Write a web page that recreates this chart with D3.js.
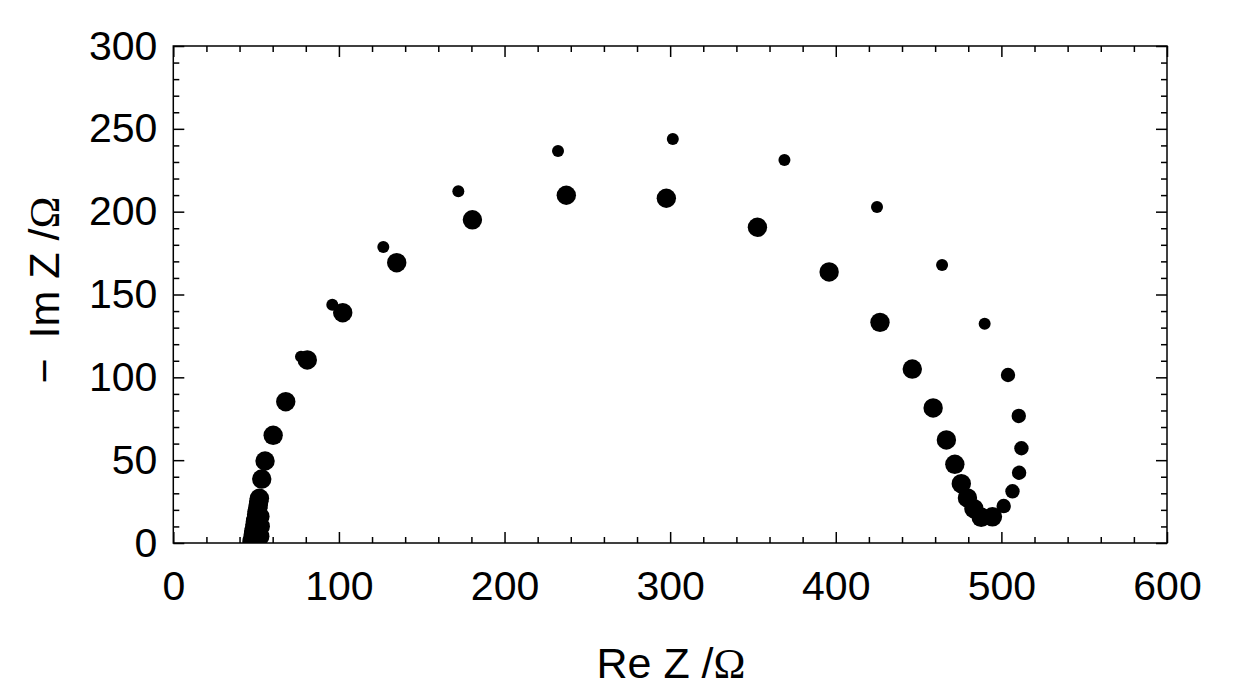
<!DOCTYPE html>
<html>
<head>
<meta charset="utf-8">
<script src="https://cdn.jsdelivr.net/npm/d3@7"></script>
<style>
  html, body { margin: 0; padding: 0; background: #fff; }
  svg { display: block; }
  text { font-family: "Liberation Sans", Arial, sans-serif; fill: #000; }
</style>
</head>
<body>
<svg id="chart" width="1247" height="695"></svg>
<script>
// ---- data ----
const xTicksMajor = [0, 100, 200, 300, 400, 500, 600];
const yTicksMajor = [0, 50, 100, 150, 200, 250, 300];
const xLabel = "Re Z";
const yLabel = "\u2212 Im Z";
const unitLabel = "\u03A9";

// Large markers (Re Z, -Im Z)
const largeRe = [47.5, 48, 48.3, 48.6, 49, 49.3, 49.6, 50, 50.3, 50.6, 51, 51.3, 51.6, 52, 52.2, 52.5, 52.3, 53.4, 55.4, 60.3, 67.9, 80.9, 102.3, 134.9, 180.6, 237.3, 297.7, 352.7, 396.0, 426.7, 446.2, 458.8, 466.8, 471.9, 475.8, 479.5, 483.4, 487.8, 494.6];
const largeIm = [1, 3, 5, 7, 9, 11, 13, 15, 17, 19, 21, 23, 25, 27, 4, 10, 16, 38.6, 49.5, 65.0, 85.3, 110.5, 139.0, 169.2, 195.1, 209.9, 208.1, 190.6, 163.6, 133.2, 105.0, 81.5, 62.2, 47.5, 35.8, 27.2, 20.7, 15.5, 15.8];

// Small markers
const smallRe = [77.1, 96.0, 126.8, 172.1, 232.3, 301.6, 369.0, 424.9, 464.2, 489.9];
const smallIm = [112.5, 143.8, 178.7, 212.3, 236.6, 243.9, 231.2, 202.8, 167.8, 132.4];

// Medium markers
const medRe = [504.0, 510.5, 512.1, 510.7, 506.7, 501.4];
const medIm = [101.4, 76.7, 57.2, 42.4, 31.2, 22.3];

// ---- layout ----
const svg = d3.select("#chart");
const L = 173.3, R = 1167, T = 46, B = 543;
const x = d3.scaleLinear().domain([0, 600]).range([L, R]);
const y = d3.scaleLinear().domain([0, 300]).range([B, T]);

const xMinor = d3.range(0, 601, 20).filter(v => v % 100 !== 0);
const yMinor = d3.range(0, 301, 10).filter(v => v % 50 !== 0);
const MAJ = 11, MIN = 6;
const fontSize = 41;

// clip
svg.append("defs").append("clipPath").attr("id", "clip")
  .append("rect").attr("x", L).attr("y", T).attr("width", R - L).attr("height", B - T);

function styleAxis(g) {
  g.selectAll("path.domain").remove();
  g.selectAll(".tick line").attr("stroke", "#000").attr("stroke-width", 1.5);
  g.selectAll("text").style("font-size", fontSize + "px").attr("font-family", "Liberation Sans, Arial, sans-serif");
}

// bottom
svg.append("g").attr("transform", `translate(0,${B})`)
  .call(d3.axisBottom(x).tickValues(xTicksMajor).tickSize(-MAJ).tickPadding(28).tickFormat(d3.format("d")))
  .call(styleAxis);
svg.append("g").attr("transform", `translate(0,${B})`)
  .call(d3.axisBottom(x).tickValues(xMinor).tickSize(-MIN).tickFormat(""))
  .call(styleAxis);
// top
svg.append("g").attr("transform", `translate(0,${T})`)
  .call(d3.axisTop(x).tickValues(xTicksMajor).tickSize(-MAJ).tickFormat(""))
  .call(styleAxis);
svg.append("g").attr("transform", `translate(0,${T})`)
  .call(d3.axisTop(x).tickValues(xMinor).tickSize(-MIN).tickFormat(""))
  .call(styleAxis);
// left
svg.append("g").attr("transform", `translate(${L},0)`)
  .call(d3.axisLeft(y).tickValues(yTicksMajor).tickSize(-MAJ).tickPadding(16).tickFormat(d3.format("d")))
  .call(styleAxis);
svg.append("g").attr("transform", `translate(${L},0)`)
  .call(d3.axisLeft(y).tickValues(yMinor).tickSize(-MIN).tickFormat(""))
  .call(styleAxis);
// right
svg.append("g").attr("transform", `translate(${R},0)`)
  .call(d3.axisRight(y).tickValues(yTicksMajor).tickSize(-MAJ).tickFormat(""))
  .call(styleAxis);
svg.append("g").attr("transform", `translate(${R},0)`)
  .call(d3.axisRight(y).tickValues(yMinor).tickSize(-MIN).tickFormat(""))
  .call(styleAxis);

// frame
svg.append("rect").attr("x", L).attr("y", T).attr("width", R - L).attr("height", B - T)
  .attr("fill", "none").attr("stroke", "#000").attr("stroke-width", 1.5);

// points
const plot = svg.append("g").attr("clip-path", "url(#clip)");
function drawSeries(re, im, r) {
  plot.append("g").selectAll("circle")
    .data(re.map((v, i) => [v, im[i]]))
    .join("circle")
    .attr("cx", d => x(d[0]))
    .attr("cy", d => y(d[1]))
    .attr("r", r)
    .attr("fill", "#000");
}
drawSeries(smallRe, smallIm, 6);
drawSeries(medRe, medIm, 7.2);
drawSeries(largeRe, largeIm, 9.7);

// axis titles
const xt = svg.append("text").attr("x", 671).attr("y", 678)
  .attr("text-anchor", "middle").style("font-size", "43px");
xt.append("tspan").text(xLabel + " ");
xt.append("tspan").text("/");
xt.append("tspan").attr("font-family", "Liberation Serif, Times New Roman, serif").text(unitLabel);

const yt = svg.append("text").attr("transform", `translate(59,290) rotate(-90)`)
  .attr("text-anchor", "middle").style("font-size", "43px");
yt.append("tspan").text("\u2212 ");
yt.append("tspan").attr("dx", 8).text("Im Z ");
yt.append("tspan").text("/");
yt.append("tspan").attr("font-family", "Liberation Serif, Times New Roman, serif").text(unitLabel);
</script>
</body>
</html>
